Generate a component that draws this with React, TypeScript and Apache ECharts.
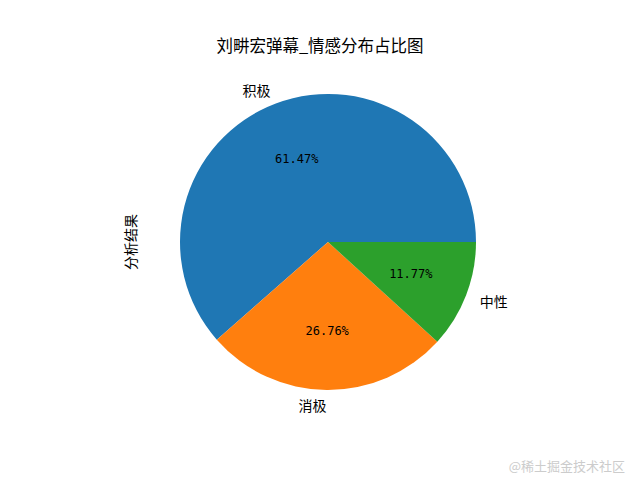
import React, { useEffect, useRef } from "react";
import * as echarts from "echarts";

const categories = ["积极", "消极", "中性"];
const shares = [61.47, 26.76, 11.77];
const colors = ["#1f77b4", "#ff7f0e", "#2ca02c"];
const titleText = "刘畊宏弹幕_情感分布占比图";
const yLabel = "分析结果";
const watermark = "@稀土掘金技术社区";

const CJK = "'Noto Sans CJK SC', 'Noto Sans', sans-serif";
const MONO = "'DejaVu Sans Mono', monospace";

export default function App() {
  const ref = useRef<HTMLDivElement>(null);
  useEffect(() => {
    if (!ref.current) return;
    const chart = echarts.init(ref.current, undefined, { renderer: "svg" });
    const R = 148;
    const data = categories.map((c, i) => ({
      name: c,
      value: shares[i],
      itemStyle: { color: colors[i] },
    }));
    chart.setOption({
      animation: false,
      backgroundColor: "#ffffff",
      title: {
        text: titleText,
        left: "center",
        top: 32,
        textStyle: { fontFamily: CJK, fontSize: 16.5, fontWeight: "normal", color: "#000" },
      },
      graphic: [
        {
          type: "text",
          x: 130,
          y: 242,
          rotation: Math.PI / 2,
          style: {
            text: yLabel,
            fontFamily: CJK,
            fontSize: 14,
            fill: "#000",
            align: "center",
            verticalAlign: "middle",
          },
        },
        {
          type: "text",
          right: 15,
          top: 459,
          style: {
            text: watermark,
            fontFamily: CJK,
            fontSize: 13,
            fill: "#cccccc",
          },
        },
      ],
      series: [
        {
          type: "pie",
          center: [328, 242],
          radius: [0, R],
          startAngle: 0,
          clockwise: false,
          avoidLabelOverlap: false,
          silent: true,
          data,
          label: {
            show: true,
            position: "outside",
            formatter: "{b}",
            fontFamily: CJK,
            fontSize: 14,
            color: "#000",
            distanceToLabelLine: 0,
          },
          labelLine: { show: false, length: 14.8, length2: 0 },
          emphasis: { disabled: true },
        },
        {
          type: "pie",
          center: [328, 242],
          radius: [0, 171.6],
          startAngle: 0,
          clockwise: false,
          avoidLabelOverlap: false,
          silent: true,
          data: categories.map((c, i) => ({ name: c, value: shares[i] })),
          itemStyle: { color: "rgba(0,0,0,0)" },
          label: {
            show: true,
            position: "inside",
            formatter: "{d}%",
            fontFamily: MONO,
            fontSize: 12,
            color: "#000",
          },
          labelLine: { show: false },
          emphasis: { disabled: true },
        },
      ],
    });
    return () => chart.dispose();
  }, []);
  return (
    <div
      ref={ref}
      style={{ position: "fixed", left: 0, top: 0, width: 640, height: 480 }}
    />
  );
}
